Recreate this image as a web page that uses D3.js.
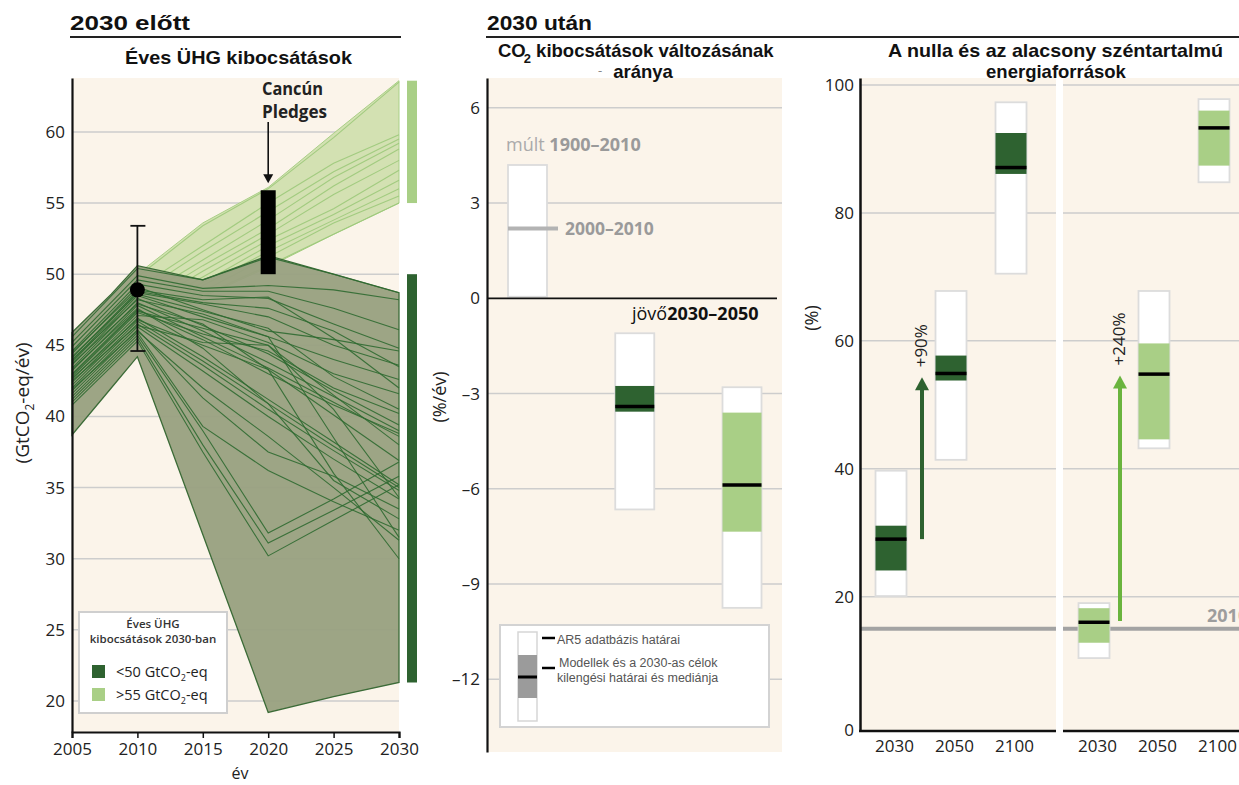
<!DOCTYPE html>
<html>
<head>
<meta charset="utf-8">
<script src="https://cdn.jsdelivr.net/npm/d3@7"></script>
<style>
  body { margin: 0; background: #fff; }
  svg { display: block; }
  text { font-family: "Open Sans", sans-serif; }
  .title { font-family: "Liberation Sans", Arial, sans-serif; font-weight: bold; fill: #111; }
  .tick text { font-family: "Open Sans", sans-serif; font-size: 17px; fill: #222; }
</style>
</head>
<body>
<div id="chart"></div>
<script>
// ---- left panel: annual GHG emissions before 2030
const scenarioYears = [2005, 2010, 2015, 2020, 2025, 2030];
// scenarios ending below 50 GtCO2-eq in 2030
const darkScenarios = [
  [45.6, 50.4, 49.6, 51.2, 50.0, 48.7],
  [45.2, 49.9, 49.0, 49.2, 48.9, 48.2],
  [44.9, 49.6, 48.8, 48.8, 47.6, 46.1],
  [44.6, 49.3, 48.5, 48.3, 46.5, 44.8],
  [44.4, 49.1, 47.5, 46.0, 45.4, 44.6],
  [44.1, 48.8, 48.0, 47.6, 46.0, 43.5],
  [43.8, 48.5, 47.0, 45.6, 44.0, 42.6],
  [43.6, 48.3, 46.4, 44.4, 41.8, 39.4],
  [43.4, 48.0, 46.0, 43.8, 41.4, 39.0],
  [43.2, 47.8, 45.6, 43.4, 41.0, 38.6],
  [43.0, 47.5, 45.4, 43.0, 40.8, 38.8],
  [42.8, 47.3, 45.8, 44.6, 42.0, 40.2],
  [42.6, 47.1, 46.8, 45.2, 43.0, 41.6],
  [42.4, 46.9, 44.2, 41.2, 38.2, 35.2],
  [42.2, 46.7, 43.9, 40.9, 37.9, 35.0],
  [42.0, 46.5, 43.6, 40.5, 37.6, 34.8],
  [41.8, 46.3, 43.2, 40.0, 37.0, 34.2],
  [41.6, 46.1, 41.3, 37.5, 35.8, 33.5],
  [41.4, 45.9, 39.3, 36.2, 34.0, 32.0],
  [41.2, 45.7, 39.0, 31.8, 34.2, 36.8],
  [41.0, 45.5, 38.0, 31.1, 33.4, 35.8],
  [40.8, 45.3, 37.5, 30.2, 32.7, 35.2],
  [44.0, 48.2, 47.2, 45.6, 38.5, 31.5],
  [43.7, 47.9, 46.5, 43.3, 36.0, 30.0],
  [43.3, 47.6, 44.8, 40.9, 35.5, 32.8],
  [42.7, 46.8, 45.0, 43.3, 40.1, 36.9],
  [42.9, 47.4, 46.2, 45.0, 41.5, 38.0],
  [44.2, 48.6, 47.4, 46.2, 42.8, 40.5],
  [43.9, 48.7, 47.9, 47.0, 45.0, 43.6],
  [42.5, 46.4, 45.2, 45.0, 40.5, 34.3],
  [41.9, 46.0, 42.0, 38.6, 35.0, 31.3],
  [44.5, 48.9, 48.2, 48.4, 45.5, 42.0]
];
// scenarios ending above 55 GtCO2-eq in 2030
const lightScenarios = [
  [45.2, 49.8, 53.4, 56.0, 59.6, 63.5],
  [44.8, 49.0, 52.0, 55.0, 57.8, 59.8],
  [44.5, 48.6, 51.6, 54.4, 57.2, 59.5],
  [44.2, 48.2, 51.0, 53.8, 56.8, 59.2],
  [43.8, 47.8, 50.6, 53.2, 56.2, 58.8],
  [43.5, 47.5, 50.2, 52.8, 55.6, 58.0],
  [43.2, 47.2, 49.8, 52.4, 54.6, 57.3],
  [43.0, 47.0, 49.4, 52.0, 54.2, 56.6],
  [42.8, 46.8, 49.2, 51.6, 53.8, 56.0],
  [42.5, 46.5, 48.8, 51.2, 53.6, 55.5],
  [42.3, 46.2, 48.5, 50.6, 52.8, 55.0]
];
const bandYears = [2005, 2008, 2010, 2015, 2020, 2025, 2030];
const darkHigh  = [45.9, 48.6, 50.6, 49.6, 51.3, 50.0, 48.7];
const darkLow   = [38.7, 42.0, 44.2, 31.7, 19.2, 20.3, 21.3];
const lightHigh = [45.5, 47.8, 50.0, 53.6, 56.1, 59.9, 63.6];
const lightLow  = [42.2, 44.5, 46.0, 48.4, 50.5, 52.8, 55.0];
const obsYear = 2010, obsValue = 48.9, obsRange = [44.6, 53.4];
const pledgeYear = 2020, pledgeRange = [50.0, 55.9];
const darkRange2030 = [21.3, 50.0];
const lightRange2030 = [55.0, 63.6];
const leftTicksY = [20, 25, 30, 35, 40, 45, 50, 55, 60];
const leftTicksX = [2005, 2010, 2015, 2020, 2025, 2030];

// ---- middle panel: rate of CO2 emissions change (%/yr)
const rateKeys = ["past", "low", "high"];
const rateDbMin = [0.05, -6.65, -9.75];
const rateDbMax = [4.2, -1.1, -2.8];
const rateBandMin = [null, -3.57, -7.35];
const rateBandMax = [null, -2.76, -3.6];
const rateMedian = [2.2, -3.41, -5.88];
const rateTicks = [6, 3, 0, -3, -6, -9, -12];

// ---- right panel: share of zero and low carbon energy (%)
const shareYears = ["2030", "2050", "2100"];
const lowDbMin    = [20.1, 41.4, 70.5];
const lowDbMax    = [39.7, 67.8, 97.3];
const lowBandMin  = [24.1, 53.8, 86.1];
const lowBandMax  = [31.1, 57.7, 92.5];
const lowMedian   = [29.0, 54.9, 87.1];
const highDbMin   = [10.4, 43.2, 84.8];
const highDbMax   = [19.0, 67.8, 97.8];
const highBandMin = [12.8, 44.6, 87.4];
const highBandMax = [18.2, 59.6, 96.0];
const highMedian  = [16.0, 54.8, 93.3];
const arrowFrom = [29.0, 16.2];
const arrowTo = [54.3, 54.6];
const arrowLabels = ["+90%", "+240%"];
const level2010 = 15;
const shareTicks = [0, 20, 40, 60, 80, 100];

const W = 1239, H = 785;
const BEIGE = "#fbf4ea", GRID = "#cdcdcd";
const DARK = "#2e6230", LIGHT = "#a9cf86";

const svg = d3.select("#chart").append("svg")
    .attr("width", W).attr("height", H);

// ================= LEFT PANEL =================
const x = d3.scaleLinear().domain([2005, 2030]).range([72, 399]);
const y = d3.scaleLinear().domain([17.82, 63.79]).range([732, 78]);
const left = svg.append("g");

left.append("rect").attr("x", 72).attr("y", 78).attr("width", 327).attr("height", 654).attr("fill", BEIGE);
left.selectAll(".grid").data(leftTicksY).enter().append("line")
    .attr("x1", 72).attr("x2", 399).attr("y1", d => y(d)).attr("y2", d => y(d))
    .attr("stroke", GRID).attr("stroke-width", 1.5);

const band = (hi, lo) => d3.area()
    .x((d, i) => x(bandYears[i]))
    .y0((d, i) => y(lo[i])).y1((d, i) => y(hi[i]));
const line = d3.line().x((d, i) => x(scenarioYears[i])).y(d => y(d));

left.append("path").attr("d", band(lightHigh, lightLow)(bandYears))
    .attr("fill", "#d3e1b2").attr("stroke", "#a9cf86").attr("stroke-width", 1);
left.selectAll(".light").data(lightScenarios).enter().append("path")
    .attr("d", line).attr("fill", "none").attr("stroke", "#9cc97a")
    .attr("stroke-width", 1.1).attr("stroke-opacity", 0.9);

left.append("path").attr("d", band(darkHigh, darkLow)(bandYears))
    .attr("fill", "#98a07f").attr("fill-opacity", 0.95)
    .attr("stroke", "#3b6b37").attr("stroke-width", 1.3);
left.selectAll(".dark").data(darkScenarios).enter().append("path")
    .attr("d", line).attr("fill", "none").attr("stroke", "#2f6a31")
    .attr("stroke-width", 1.1).attr("stroke-opacity", 0.9);

// observed 2010 with error bar
left.append("line").attr("x1", x(obsYear)).attr("x2", x(obsYear))
    .attr("y1", y(obsRange[0])).attr("y2", y(obsRange[1])).attr("stroke", "#111").attr("stroke-width", 1.8);
left.selectAll(".cap").data(obsRange).enter().append("line")
    .attr("x1", x(obsYear) - 7).attr("x2", x(obsYear) + 8)
    .attr("y1", d => y(d)).attr("y2", d => y(d)).attr("stroke", "#111").attr("stroke-width", 1.8);
left.append("circle").attr("cx", x(obsYear)).attr("cy", y(obsValue)).attr("r", 7.5).attr("fill", "#000");

// Cancún pledges
left.append("rect").attr("x", x(pledgeYear) - 7.5).attr("width", 15)
    .attr("y", y(pledgeRange[1])).attr("height", y(pledgeRange[0]) - y(pledgeRange[1])).attr("fill", "#000");
const tipY = y(pledgeRange[1]) - 7;
left.append("line").attr("x1", x(pledgeYear)).attr("x2", x(pledgeYear))
    .attr("y1", 122).attr("y2", tipY - 6).attr("stroke", "#111").attr("stroke-width", 1.6);
left.append("path").attr("d", `M${x(pledgeYear) - 5},${tipY - 9}L${x(pledgeYear) + 5},${tipY - 9}L${x(pledgeYear)},${tipY}Z`)
    .attr("fill", "#111");
left.append("text").attr("x", 262).attr("y", 95)
    .attr("textLength", 61).attr("lengthAdjust", "spacingAndGlyphs")
    .style("font-size", "18px").style("font-weight", 700).attr("fill", "#222").text("Cancún");
left.append("text").attr("x", 262).attr("y", 118)
    .attr("textLength", 65).attr("lengthAdjust", "spacingAndGlyphs")
    .style("font-size", "18px").style("font-weight", 700).attr("fill", "#222").text("Pledges");

// 2030 category bars
left.append("rect").attr("x", 407).attr("width", 10)
    .attr("y", y(lightRange2030[1])).attr("height", y(lightRange2030[0]) - y(lightRange2030[1])).attr("fill", LIGHT);
left.append("rect").attr("x", 407).attr("width", 10)
    .attr("y", y(darkRange2030[1])).attr("height", y(darkRange2030[0]) - y(darkRange2030[1])).attr("fill", DARK);

// axes
const ly = left.append("g").attr("transform", "translate(72,0)")
    .call(d3.axisLeft(y).tickValues(leftTicksY).tickSize(0).tickPadding(7));
ly.select(".domain").attr("stroke", "#111").attr("stroke-width", 2.2);
const lx = left.append("g").attr("transform", "translate(0,732)")
    .call(d3.axisBottom(x).tickValues(leftTicksX).tickFormat(d3.format("d")).tickSizeOuter(0).tickSize(6).tickPadding(5));
lx.select(".domain").attr("stroke", "#111").attr("stroke-width", 2.2);
lx.selectAll(".tick line").attr("stroke", "#111").attr("stroke-width", 1.5);

left.append("text").attr("transform", "translate(29,403) rotate(-90)").attr("text-anchor", "middle")
    .style("font-size", "19px").attr("fill", "#222")
    .html('(GtCO<tspan dy="5" font-size="12">2</tspan><tspan dy="-5">-eq/év)</tspan>');
left.append("text").attr("x", 240).attr("y", 779).attr("text-anchor", "middle")
    .style("font-size", "16px").attr("fill", "#222").text("év");

// legend
const lg = left.append("g");
lg.append("rect").attr("x", 79).attr("y", 612).attr("width", 148).attr("height", 101)
    .attr("fill", "#fff").attr("stroke", "#cfcfcf").attr("stroke-width", 2);
lg.append("text").attr("x", 153).attr("y", 628).attr("text-anchor", "middle")
    .style("font-size", "11.5px").style("font-weight", 600).attr("fill", "#333").text("Éves ÜHG");
lg.append("text").attr("x", 153).attr("y", 643).attr("text-anchor", "middle")
    .style("font-size", "11.5px").style("font-weight", 600).attr("fill", "#333").text("kibocsátások 2030-ban");
[[DARK, "<50", 665], [LIGHT, ">55", 688]].forEach(([c, t, yy]) => {
  lg.append("rect").attr("x", 92).attr("y", yy).attr("width", 13).attr("height", 13).attr("fill", c);
  lg.append("text").attr("x", 116).attr("y", yy + 12).style("font-size", "14.5px").attr("fill", "#222")
    .html(`${t} GtCO<tspan dy="4" font-size="9">2</tspan><tspan dy="-4">-eq</tspan>`);
});

// ================= MIDDLE PANEL =================
const ym = d3.scaleLinear().domain([-14.29, 6.94]).range([752, 78]);
const xm = d3.scalePoint().domain(rateKeys).range([527.5, 742]);
const mid = svg.append("g");

mid.append("rect").attr("x", 487).attr("y", 78).attr("width", 295).attr("height", 674).attr("fill", BEIGE);
mid.selectAll(".grid").data(rateTicks.filter(d => d !== 0)).enter().append("line")
    .attr("x1", 487).attr("x2", 782).attr("y1", d => ym(d)).attr("y2", d => ym(d))
    .attr("stroke", GRID).attr("stroke-width", 1.5);

const bw = 39;
rateKeys.forEach((k, i) => {
  const cx = xm(k);
  mid.append("rect").attr("x", cx - bw / 2).attr("width", bw)
      .attr("y", ym(rateDbMax[i])).attr("height", ym(rateDbMin[i]) - ym(rateDbMax[i]))
      .attr("fill", "#fff").attr("stroke", "#dcdcdc").attr("stroke-width", 1.8);
  if (rateBandMin[i] !== null) {
    mid.append("rect").attr("x", cx - bw / 2).attr("width", bw)
        .attr("y", ym(rateBandMax[i])).attr("height", ym(rateBandMin[i]) - ym(rateBandMax[i]))
        .attr("fill", i === 1 ? DARK : LIGHT);
  }
  mid.append("line").attr("x1", cx - bw / 2).attr("x2", i === 0 ? cx + bw / 2 + 11 : cx + bw / 2)
      .attr("y1", ym(rateMedian[i])).attr("y2", ym(rateMedian[i]))
      .attr("stroke", i === 0 ? "#b3b3b3" : "#000").attr("stroke-width", i === 0 ? 4 : 3.5);
});

mid.append("line").attr("x1", 487).attr("x2", 777).attr("y1", ym(0)).attr("y2", ym(0))
    .attr("stroke", "#111").attr("stroke-width", 1.8);

mid.append("text").attr("x", 506).attr("y", 151).style("font-size", "18px").attr("fill", "#aaa")
    .html('múlt <tspan font-weight="700" fill="#9a9a9a">1900–2010</tspan>');
mid.append("text").attr("x", 565).attr("y", ym(rateMedian[0]) + 7).style("font-size", "17.5px")
    .style("font-weight", 700).attr("fill", "#9a9a9a").text("2000–2010");
mid.append("text").attr("x", 632).attr("y", 320).style("font-size", "18px").attr("fill", "#111")
    .html('jövő<tspan font-weight="700">2030–2050</tspan>');

const my = mid.append("g").attr("transform", "translate(487,0)")
    .call(d3.axisLeft(ym).tickValues(rateTicks).tickFormat(d => d < 0 ? "–" + Math.abs(d) : d).tickSize(0).tickPadding(7));
my.select(".domain").attr("stroke", "#111").attr("stroke-width", 2.2);
mid.append("text").attr("transform", "translate(446,397) rotate(-90)").attr("text-anchor", "middle")
    .style("font-size", "18px").attr("fill", "#222").text("(%/év)");

// legend
const ml = mid.append("g");
ml.append("rect").attr("x", 500).attr("y", 625).attr("width", 269).attr("height", 102)
    .attr("fill", "#fff").attr("stroke", "#d3d3d3").attr("stroke-width", 2);
ml.append("rect").attr("x", 518).attr("y", 632).attr("width", 19).attr("height", 89)
    .attr("fill", "#fff").attr("stroke", "#d6d6d6").attr("stroke-width", 1.5);
ml.append("rect").attr("x", 518).attr("y", 655).attr("width", 19).attr("height", 43).attr("fill", "#9b9b9b");
ml.append("line").attr("x1", 518).attr("x2", 537).attr("y1", 677).attr("y2", 677).attr("stroke", "#000").attr("stroke-width", 3);
[638, 668].forEach(yy => ml.append("line").attr("x1", 542).attr("x2", 555).attr("y1", yy).attr("y2", yy)
    .attr("stroke", "#000").attr("stroke-width", 2.5));
[["AR5 adatbázis határai", 644], ["Modellek és a 2030-as célok", 667], ["kilengési határai és mediánja", 682]]
  .forEach(([t, yy], i) => ml.append("text").attr("x", i === 1 ? 559 : 557).attr("y", yy)
    .style("font-family", "Liberation Sans, Arial, sans-serif").style("font-size", "12.5px").attr("fill", "#555").text(t));

// ================= RIGHT PANEL =================
const yr = d3.scaleLinear().domain([-1, 101.1]).range([731, 78]);
const panels = [
  { x0: 860, x1: 1056, dbMin: lowDbMin, dbMax: lowDbMax, bMin: lowBandMin, bMax: lowBandMax, med: lowMedian, fill: DARK, arrow: "#2e6230" },
  { x0: 1063, x1: W, dbMin: highDbMin, dbMax: highDbMax, bMin: highBandMin, bMax: highBandMax, med: highMedian, fill: LIGHT, arrow: "#6ab43e" }
];
const right = svg.append("g");

panels.forEach((p, pi) => {
  const g = right.append("g");
  const xs = d3.scalePoint().domain(shareYears).range([p.x0 + 31, p.x0 + 151]);
  const w = 31;
  g.append("rect").attr("x", p.x0).attr("y", 78).attr("width", p.x1 - p.x0).attr("height", 731 - 78).attr("fill", BEIGE);
  g.selectAll(".grid").data(shareTicks.filter(d => d > 0)).enter().append("line")
      .attr("x1", p.x0).attr("x2", p.x1).attr("y1", d => yr(d)).attr("y2", d => yr(d))
      .attr("stroke", GRID).attr("stroke-width", 1.5);
  g.append("line").attr("x1", p.x0).attr("x2", p.x1).attr("y1", yr(level2010)).attr("y2", yr(level2010))
      .attr("stroke", "#a3a3a3").attr("stroke-width", 4);
  shareYears.forEach((yy, i) => {
    const cx = xs(yy);
    g.append("rect").attr("x", cx - w / 2).attr("width", w)
        .attr("y", yr(p.dbMax[i])).attr("height", yr(p.dbMin[i]) - yr(p.dbMax[i]))
        .attr("fill", "#fff").attr("stroke", "#dcdcdc").attr("stroke-width", 1.8);
    g.append("rect").attr("x", cx - w / 2).attr("width", w)
        .attr("y", yr(p.bMax[i])).attr("height", yr(p.bMin[i]) - yr(p.bMax[i])).attr("fill", p.fill);
    g.append("line").attr("x1", cx - w / 2).attr("x2", cx + w / 2)
        .attr("y1", yr(p.med[i])).attr("y2", yr(p.med[i])).attr("stroke", "#000").attr("stroke-width", 3.5);
  });
  // change arrow
  const ax = (xs("2030") + xs("2050")) / 2 + (pi === 0 ? 1 : -4);
  const top = yr(arrowTo[pi]);
  g.append("line").attr("x1", ax).attr("x2", ax).attr("y1", yr(arrowFrom[pi])).attr("y2", top + 10)
      .attr("stroke", p.arrow).attr("stroke-width", 4);
  g.append("path").attr("d", `M${ax - 7},${top + 13}L${ax + 7},${top + 13}L${ax},${top}Z`).attr("fill", p.arrow);
  g.append("text").attr("transform", `translate(${ax + 5},${top - 10}) rotate(-90)`)
      .style("font-size", "17px").attr("fill", "#222").text(arrowLabels[pi]);
  // baseline and x labels
  g.append("line").attr("x1", p.x0 - (pi === 0 ? 1 : 0)).attr("x2", p.x1).attr("y1", 731).attr("y2", 731)
      .attr("stroke", "#111").attr("stroke-width", 2.5);
  const gx = g.append("g").attr("transform", "translate(3,731)")
      .call(d3.axisBottom(xs).tickSize(0).tickPadding(9));
  gx.select(".domain").remove();
});

right.append("text").attr("x", 1207).attr("y", 622).style("font-size", "18px").style("font-weight", 700)
    .attr("fill", "#9d9d9d").text("2010");

const ry = right.append("g").attr("transform", "translate(860,0)")
    .call(d3.axisLeft(yr).tickValues(shareTicks).tickSize(0).tickPadding(6));
ry.select(".domain").attr("stroke", "#111").attr("stroke-width", 2.5);
ry.selectAll(".tick").filter(d => d === 0).attr("transform", "translate(0,731)");
right.append("text").attr("transform", "translate(818,318) rotate(-90)").attr("text-anchor", "middle")
    .style("font-size", "18px").attr("fill", "#222").text("(%)");

// ================= HEADINGS (drawn last, over the panel backgrounds) =================
svg.append("text").attr("class", "title").attr("x", 70).attr("y", 30)
    .attr("textLength", 120).attr("lengthAdjust", "spacingAndGlyphs")
    .style("font-size", "21px").text("2030 előtt");
svg.append("line").attr("x1", 70).attr("x2", 401).attr("y1", 37).attr("y2", 37)
    .attr("stroke", "#222").attr("stroke-width", 2);
svg.append("text").attr("class", "title").attr("x", 487).attr("y", 30)
    .attr("textLength", 105).attr("lengthAdjust", "spacingAndGlyphs")
    .style("font-size", "21px").text("2030 után");
svg.append("line").attr("x1", 486).attr("x2", W).attr("y1", 37).attr("y2", 37)
    .attr("stroke", "#222").attr("stroke-width", 2);

svg.append("text").attr("class", "title").attr("x", 125).attr("y", 64)
    .attr("textLength", 227).attr("lengthAdjust", "spacingAndGlyphs")
    .style("font-size", "18.5px").text("Éves ÜHG kibocsátások");

svg.append("text").attr("class", "title").attr("x", 498).attr("y", 57).style("font-size", "18.5px")
    .html('CO<tspan dx="-2" dy="6" font-size="13">2</tspan><tspan dy="-6"> kibocsátások változásának</tspan>');
svg.append("text").attr("x", 598).attr("y", 75).style("font-size", "13px").attr("fill", "#888").text("-");
svg.append("text").attr("class", "title").attr("x", 643).attr("y", 78).attr("text-anchor", "middle")
    .style("font-size", "18.5px").text("aránya");

svg.append("text").attr("class", "title").attr("x", 888).attr("y", 57)
    .attr("textLength", 335).attr("lengthAdjust", "spacingAndGlyphs")
    .style("font-size", "18.5px").text("A nulla és az alacsony széntartalmú");
svg.append("text").attr("class", "title").attr("x", 1056).attr("y", 78).attr("text-anchor", "middle")
    .style("font-size", "18.5px").text("energiaforrások");
</script>
</body>
</html>
